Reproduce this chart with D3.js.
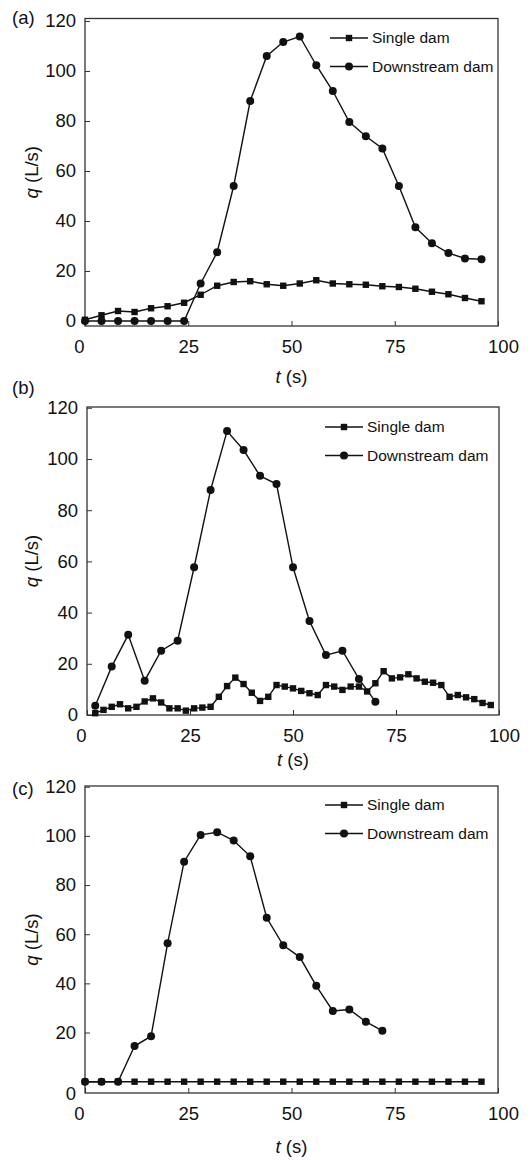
<!DOCTYPE html>
<html>
<head>
<meta charset="utf-8">
<script src="https://cdn.jsdelivr.net/npm/d3@7"></script>
<style>
  body { margin: 0; background: #fff; }
  svg { display: block; font-family: "Liberation Sans", Arial, sans-serif; }
</style>
</head>
<body>
<div id="chart"></div>
<script>
// Data
const seriesNames = ["Single dam", "Downstream dam"];
const xTicks = [0, 25, 50, 75, 100];
const yTicks = [0, 20, 40, 60, 80, 100, 120];

// (a)
const tA = [0, 4, 8, 12, 16, 20, 24, 28, 32, 36, 40, 44, 48, 52, 56, 60, 64, 68, 72, 76, 80, 84, 88, 92, 96];
const singleA = [0.5, 2.3, 4.0, 3.6, 5.1, 5.9, 7.3, 10.5, 14.1, 15.6, 15.9, 14.7, 14.1, 15.0, 16.3, 15.0, 14.7, 14.5, 13.9, 13.6, 12.9, 11.7, 10.7, 9.2, 7.9];
const downA = [0, 0, 0, 0, 0, 0, 0, 15.0, 27.5, 54.0, 88.0, 106.0, 111.6, 113.8, 102.3, 92.0, 79.6, 73.9, 69.0, 54.0, 37.5, 31.1, 27.2, 25.0, 24.7];

// (b)
const tBSingle = [2, 4, 6, 8, 10, 12, 14, 16, 18, 20, 22, 24, 26, 28, 30, 32, 34, 36, 38, 40, 42, 44, 46, 48, 50,
                  52, 54, 56, 58, 60, 62, 64, 66, 68, 70, 72, 74, 76, 78, 80, 82, 84, 86, 88, 90, 92, 94, 96, 98];
const singleB = [0.7, 2.0, 3.2, 4.2, 2.6, 3.2, 5.3, 6.5, 4.9, 2.6, 2.6, 1.7, 2.6, 2.9, 3.2, 7.1, 11.3, 14.6, 12.1, 8.7, 5.5, 7.1, 11.7, 11.1, 10.4,
                 9.4, 8.5, 7.8, 11.7, 11.1, 9.8, 11.1, 11.1, 9.2, 12.4, 17.1, 14.3, 14.7, 15.9, 14.3, 13.0, 12.6, 11.7, 7.1, 7.8, 6.9, 6.2, 4.7, 3.9];
const tBDown = [2, 6, 10, 14, 18, 22, 26, 30, 34, 38, 42, 46, 50, 54, 58, 62, 66, 70];
const downB = [3.6, 18.9, 31.3, 13.4, 25.1, 29.0, 57.7, 87.9, 110.9, 103.5, 93.4, 90.2, 57.7, 36.7, 23.4, 25.1, 14.1, 5.2];

// (c)
const tC = [0, 4, 8, 12, 16, 20, 24, 28, 32, 36, 40, 44, 48, 52, 56, 60, 64, 68, 72, 76, 80, 84, 88, 92, 96];
const singleC = [0, 0, 0, 0, 0, 0, 0, 0, 0, 0, 0, 0, 0, 0, 0, 0, 0, 0, 0, 0, 0, 0, 0, 0, 0];
const tCDown = [0, 4, 8, 12, 16, 20, 24, 28, 32, 36, 40, 44, 48, 52, 56, 60, 64, 68, 72];
const downC = [0, 0, 0, 14.5, 18.5, 56.3, 89.5, 100.4, 101.5, 98.1, 91.7, 66.7, 55.5, 50.7, 39.0, 28.8, 29.4, 24.4, 20.7];

const pair = (ts, vs) => ts.map((t, i) => ({ t: t, v: vs[i] }));

// Layout of the three panels (pixel boxes)
const panels = [
    { label: "(a)", single: pair(tA, singleA), down: pair(tA, downA),
      left: 85, right: 498, top: 18.5, bottom: 326, yDomain: [-2, 121],
      labelY: 18, legendX: 330, legendY: 38, titleY: 377, zeroShift: 0 },
    { label: "(b)", single: pair(tBSingle, singleB), down: pair(tBDown, downB),
      left: 87, right: 499, top: 407, bottom: 715, yDomain: [0, 120.3],
      labelY: 388, legendX: 325, legendY: 427, titleY: 760, zeroShift: 0 },
    { label: "(c)", single: pair(tC, singleC), down: pair(tCDown, downC),
      left: 85, right: 498, top: 786, bottom: 1093, yDomain: [-4.6, 120.3],
      labelY: 789, legendX: 325, legendY: 805, titleY: 1147, zeroShift: 12 }
];

const width = 531, height = 1160;
const ink = "#111";
const fontSize = 18.5;

const svg = d3.select("#chart").append("svg")
    .attr("width", width)
    .attr("height", height);

svg.append("rect").attr("width", width).attr("height", height).attr("fill", "#fff");

function drawMarker(g, kind, cx, cy) {
    if (kind === "square") {
        g.append("rect")
            .attr("x", cx - 3.2).attr("y", cy - 3.2)
            .attr("width", 6.4).attr("height", 6.4)
            .attr("fill", ink);
    } else {
        g.append("circle")
            .attr("cx", cx).attr("cy", cy).attr("r", 4)
            .attr("fill", ink);
    }
}

panels.forEach(p => {
    const g = svg.append("g");

    const x = d3.scaleLinear().domain([0, 100]).range([p.left, p.right]);
    const y = d3.scaleLinear().domain(p.yDomain).range([p.bottom, p.top]);

    // x axis, ticks pointing inward
    const xAxis = g.append("g")
        .attr("transform", `translate(0,${p.bottom})`)
        .call(d3.axisBottom(x).tickValues(xTicks).tickSizeInner(-5).tickSizeOuter(0).tickPadding(14));
    xAxis.select(".domain").remove();
    xAxis.selectAll(".tick line").attr("stroke", "#333");
    xAxis.selectAll(".tick text")
        .attr("fill", ink)
        .style("font-size", fontSize + "px")
        .attr("dx", d => d === 0 ? -6 : (d === 100 ? 5 : 0));

    // y axis
    const yAxis = g.append("g")
        .attr("transform", `translate(${p.left},0)`)
        .call(d3.axisLeft(y).tickValues(yTicks).tickSizeInner(-5).tickSizeOuter(0).tickPadding(9));
    yAxis.select(".domain").remove();
    yAxis.selectAll(".tick line").attr("stroke", "#333");
    yAxis.selectAll(".tick text")
        .attr("fill", ink)
        .style("font-size", fontSize + "px")
        .attr("y", d => d === 0 ? p.zeroShift : 0);

    // frame
    g.append("rect")
        .attr("x", p.left).attr("y", p.top)
        .attr("width", p.right - p.left).attr("height", p.bottom - p.top)
        .attr("fill", "none")
        .attr("stroke", "#333")
        .attr("stroke-width", 1.3);

    // series
    const line = d3.line().x(d => x(d.t)).y(d => y(d.v));
    [[p.single, "square"], [p.down, "circle"]].forEach(([data, kind]) => {
        g.append("path")
            .datum(data)
            .attr("d", line)
            .attr("fill", "none")
            .attr("stroke", ink)
            .attr("stroke-width", 1.4);
        const mg = g.append("g");
        data.forEach(d => drawMarker(mg, kind, x(d.t), y(d.v)));
    });

    // legend
    seriesNames.forEach((name, i) => {
        const ly = p.legendY + i * 28.5;
        g.append("line")
            .attr("x1", p.legendX).attr("x2", p.legendX + 38)
            .attr("y1", ly).attr("y2", ly)
            .attr("stroke", ink).attr("stroke-width", 1.4);
        drawMarker(g, i === 0 ? "square" : "circle", p.legendX + 19, ly);
        g.append("text")
            .attr("x", p.legendX + 42).attr("y", ly)
            .attr("dy", "0.35em")
            .attr("fill", ink)
            .style("font-size", "15.5px")
            .text(name);
    });

    // panel label
    g.append("text")
        .attr("x", 12).attr("y", p.labelY)
        .attr("dy", "0.35em")
        .attr("fill", ink)
        .style("font-size", fontSize + "px")
        .text(p.label);

    // axis titles
    const yt = g.append("text")
        .attr("transform", `translate(32,${(p.top + p.bottom) / 2}) rotate(-90)`)
        .attr("text-anchor", "middle")
        .attr("dy", "0.35em")
        .attr("fill", ink)
        .style("font-size", fontSize + "px");
    yt.append("tspan").style("font-style", "italic").text("q");
    yt.append("tspan").text(" (L/s)");

    const xt = g.append("text")
        .attr("x", (p.left + p.right) / 2).attr("y", p.titleY)
        .attr("text-anchor", "middle")
        .attr("dy", "0.35em")
        .attr("fill", ink)
        .style("font-size", fontSize + "px");
    xt.append("tspan").style("font-style", "italic").text("t");
    xt.append("tspan").text(" (s)");
});
</script>
</body>
</html>
